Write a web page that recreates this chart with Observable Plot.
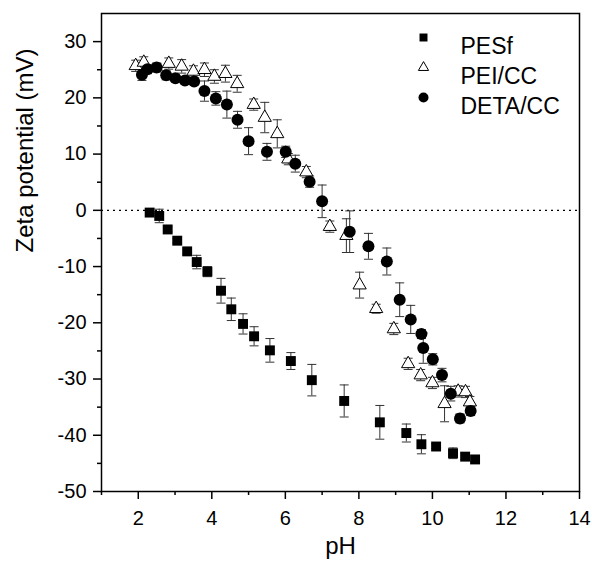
<!DOCTYPE html>
<html><head><meta charset="utf-8">
<script src="https://cdn.jsdelivr.net/npm/d3@7"></script>
<script src="https://cdn.jsdelivr.net/npm/@observablehq/plot@0.6"></script>
<style>body{margin:0;background:#fff} #chart svg{display:block}</style>
</head><body><div id="chart"></div><script>
// PESf (squares)
const pesfPH   = [2.31, 2.57, 2.80, 3.06, 3.33, 3.59, 3.88, 4.25, 4.53, 4.85, 5.15, 5.58, 6.15, 6.72, 7.60, 8.57, 9.29, 9.70, 10.10, 10.56, 10.89, 11.16];
const pesfZeta = [-0.4, -1.0, -3.4, -5.4, -7.3, -9.2, -10.9, -14.3, -17.6, -20.2, -22.4, -24.9, -26.8, -30.2, -33.9, -37.7, -39.6, -41.6, -42.0, -43.2, -43.8, -44.3];
const pesfErr  = [0.5, 1.2, 0.4, 0.4, 0.4, 1.2, 0.9, 2.2, 2.0, 1.8, 1.7, 2.1, 1.5, 2.8, 2.85, 3.0, 1.6, 1.7, 0.4, 0.95, 0.5, 0.4];
// PEI/CC (open triangles)
const peiPH   = [1.93, 2.15, 2.83, 3.18, 3.50, 3.80, 4.07, 4.37, 4.69, 5.14, 5.44, 5.78, 6.08, 6.57, 7.21, 7.66, 8.02, 8.47, 8.95, 9.34, 9.68, 10.00, 10.33, 10.70, 10.90, 11.02];
const peiZeta = [25.7, 26.3, 26.1, 25.6, 24.7, 25.0, 23.8, 24.3, 22.5, 18.8, 16.5, 13.6, 9.1, 6.8, -2.9, -4.5, -13.3, -17.5, -21.1, -27.3, -29.3, -30.7, -34.4, -32.2, -32.3, -34.1];
const peiErr  = [1.0, 1.0, 1.0, 1.2, 1.0, 1.2, 1.2, 1.5, 1.5, 1.0, 2.7, 2.5, 1.0, 1.0, 1.0, 3.0, 2.3, 0.8, 1.0, 1.0, 1.0, 1.0, 3.2, 1.0, 1.0, 1.0];
// DETA/CC (filled circles)
const detaPH   = [2.10, 2.25, 2.50, 2.76, 3.01, 3.27, 3.52, 3.80, 4.11, 4.41, 4.70, 5.00, 5.50, 6.01, 6.27, 6.66, 7.00, 7.75, 8.26, 8.76, 9.11, 9.41, 9.70, 9.75, 10.01, 10.26, 10.50, 10.75, 11.04];
const detaZeta = [24.1, 25.1, 25.4, 24.0, 23.5, 23.1, 22.9, 21.2, 19.9, 18.8, 16.1, 12.3, 10.4, 10.4, 8.3, 5.1, 1.6, -3.8, -6.4, -9.1, -15.9, -19.4, -22.0, -24.5, -26.5, -29.3, -32.6, -37.0, -35.7];
const detaErr  = [1.0, 0.8, 0.8, 0.8, 0.6, 0.6, 0.6, 1.8, 1.2, 2.4, 1.5, 2.4, 1.5, 1.0, 1.5, 1.0, 2.9, 3.7, 2.3, 2.4, 3.0, 2.5, 0.8, 2.7, 1.0, 1.2, 1.3, 0.8, 0.8];

const seriesNames = ["PESf", "PEI/CC", "DETA/CC"];
const xMajor = [2, 4, 6, 8, 10, 12, 14];
const xMinor = [1, 3, 5, 7, 9, 11, 13];
const yMajor = [-50, -40, -30, -20, -10, 0, 10, 20, 30];
const yMinor = [-45, -35, -25, -15, -5, 5, 15, 25];

const rows = (name, ph, z, e) => ph.map((x, i) => ({series: name, pH: x, zeta: z[i], err: e[i]}));
const pesf = rows(seriesNames[0], pesfPH, pesfZeta, pesfErr);
const pei  = rows(seriesNames[1], peiPH, peiZeta, peiErr);
const deta = rows(seriesNames[2], detaPH, detaZeta, detaErr);
const all = [...pesf, ...pei, ...deta];

const cap = {draw(ctx) { ctx.moveTo(-4.5, 0); ctx.lineTo(4.5, 0); }};
const font = "'Liberation Sans', Arial, Helvetica, sans-serif";
const plain = d => String(d);

const legendStyles = [
  {symbol: "square", r: 4.5, fill: "black", stroke: "none"},
  {symbol: "triangle", r: 3.8, fill: "white", stroke: "black"},
  {symbol: "circle", r: 5, fill: "black", stroke: "none"}
];
const legendMarks = seriesNames.flatMap((name, i) => [
  Plot.dot([name], {frameAnchor: "top-left", dx: 322, dy: 24 + 30 * i, ...legendStyles[i], strokeWidth: 1}),
  Plot.text([name], {text: d => d, frameAnchor: "top-left", dx: 359, dy: 24 + 30 * i, textAnchor: "start", fontSize: 23, fill: "black"})
]);

const chart = Plot.plot({
  width: 592, height: 564,
  marginLeft: 101, marginRight: 13, marginTop: 13, marginBottom: 73,
  style: {fontFamily: font, fontSize: "20px", color: "black", background: "white"},
  x: {domain: [1, 14]},
  y: {domain: [-50, 35]},
  marks: [
    Plot.ruleY([0], {stroke: "black", strokeDasharray: "2,4", strokeWidth: 1.2}),
    Plot.ruleX(all, {x: "pH", y1: d => d.zeta - d.err, y2: d => d.zeta + d.err, stroke: "#333", strokeWidth: 1}),
    Plot.dot(all, {x: "pH", y: d => d.zeta + d.err, symbol: cap, stroke: "#333", strokeWidth: 1, r: 1}),
    Plot.dot(all, {x: "pH", y: d => d.zeta - d.err, symbol: cap, stroke: "#333", strokeWidth: 1, r: 1}),
    Plot.dot(pesf, {x: "pH", y: "zeta", symbol: "square", r: 5.6, fill: "black", stroke: "none"}),
    Plot.dot(pei, {x: "pH", y: "zeta", symbol: "triangle", r: 4.9, fill: "white", stroke: "black", strokeWidth: 1}),
    Plot.dot(deta, {x: "pH", y: "zeta", symbol: "circle", r: 6, fill: "black", stroke: "none"}),
    Plot.axisX(xMajor, {tickSize: 8, tickPadding: 11, tickFormat: plain, label: null, strokeWidth: 1.5, fontSize: 20}),
    Plot.axisX(xMinor, {tickSize: 4, tickFormat: () => "", label: null, strokeWidth: 1.5}),
    Plot.axisY(yMajor, {tickSize: 8, tickPadding: 7, tickFormat: plain, label: null, strokeWidth: 1.5, fontSize: 20}),
    Plot.axisY(yMinor, {tickSize: 4, tickFormat: () => "", label: null, strokeWidth: 1.5}),
    Plot.frame({stroke: "black", strokeWidth: 1.5}),
    Plot.text(["Zeta potential (mV)"], {text: d => d, frameAnchor: "left", dx: -76, rotate: -90, fontSize: 24, fill: "black"}),
    Plot.text(["pH"], {text: d => d, frameAnchor: "bottom", dy: 62, fontSize: 24, fill: "black"}),
    ...legendMarks
  ]
});
document.getElementById("chart").append(chart);
</script></body></html>
